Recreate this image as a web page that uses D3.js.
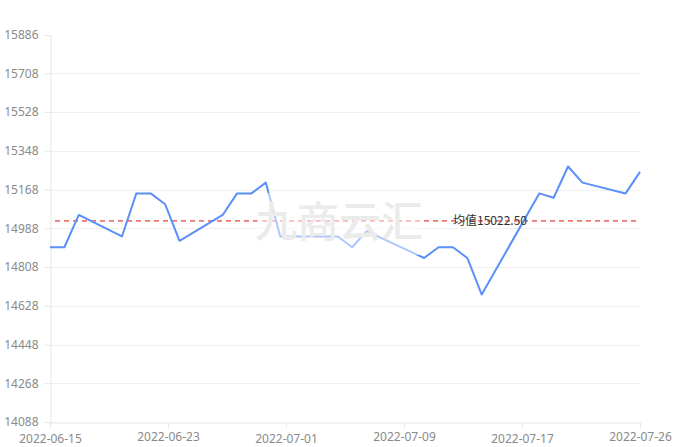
<!DOCTYPE html>
<html>
<head>
<meta charset="utf-8">
<script src="https://cdn.jsdelivr.net/npm/d3@7/dist/d3.min.js"></script>
<style>
  html, body { margin: 0; padding: 0; background: #fff; }
  svg { display: block; }
  text { font-family: "Noto Sans", "Noto Sans CJK SC", sans-serif; }
</style>
</head>
<body>
<svg id="chart" width="677" height="447"></svg>
<script>
// ---- data ----
const dates = [
  "2022-06-15","2022-06-16","2022-06-17","2022-06-20","2022-06-21","2022-06-22",
  "2022-06-23","2022-06-24","2022-06-27","2022-06-28","2022-06-29","2022-06-30",
  "2022-07-01","2022-07-04","2022-07-05","2022-07-06","2022-07-07","2022-07-11",
  "2022-07-12","2022-07-13","2022-07-14","2022-07-15","2022-07-19","2022-07-20",
  "2022-07-21","2022-07-22","2022-07-25","2022-07-26"
];
const prices = [
  14900, 14900, 15050, 14950, 15150, 15150,
  15100, 14930, 15050, 15150, 15150, 15200,
  14950, 14950, 14950, 14900, 14975, 14850,
  14900, 14900, 14850, 14680, 15150, 15130,
  15275, 15200, 15150, 15250
];
const meanValue = 15022.50;
const meanLabel = "均值";
const yTicks = [14088, 14268, 14448, 14628, 14808, 14988, 15168, 15348, 15528, 15708, 15886];
const xTickLabels = ["2022-06-15","2022-06-23","2022-07-01","2022-07-09","2022-07-17","2022-07-26"];
const watermark = "九商云汇";

// ---- layout ----
const svg = d3.select("#chart");
const mLeft = 50, mRight = 640, mTop = 35, mBottom = 422;
const parse = d3.timeParse("%Y-%m-%d");
const pts = dates.map((d, i) => ({ date: parse(d), value: prices[i] }));

const x = d3.scaleTime()
  .domain([parse(dates[0]), parse(dates[dates.length - 1])])
  .range([mLeft, mRight]);
const y = d3.scaleLinear()
  .domain([yTicks[0], yTicks[yTicks.length - 1]])
  .range([mBottom, mTop]);

// grid lines
svg.append("g")
  .selectAll("line")
  .data(yTicks.slice(1, -1))
  .join("line")
  .attr("x1", mLeft).attr("x2", mRight)
  .attr("y1", d => Math.round(y(d)) + 0.5).attr("y2", d => Math.round(y(d)) + 0.5)
  .attr("stroke", "#f0f0f0").attr("stroke-width", 1);

// y axis
const yAxis = svg.append("g")
  .attr("transform", `translate(${mLeft + 0.5},0)`)
  .call(d3.axisLeft(y).tickValues(yTicks).tickSize(6).tickPadding(6).tickFormat(d3.format("d")));
yAxis.select(".domain").attr("stroke", "#e6e6e6");
yAxis.selectAll(".tick line").attr("stroke", "#e6e6e6");
yAxis.selectAll(".tick text").attr("fill", "#8a8a8a").style("font-size", "12px");

// x axis
const d0 = x.domain()[0].getTime(), d1 = x.domain()[1].getTime();
const xTickVals = xTickLabels.map((_, i) => new Date(d0 + (d1 - d0) * i / (xTickLabels.length - 1)));
const xAxis = svg.append("g")
  .attr("transform", `translate(0,${mBottom + 0.5})`)
  .call(d3.axisBottom(x).tickValues(xTickVals).tickSize(5).tickPadding(4)
    .tickFormat((d, i) => xTickLabels[i]));
xAxis.select(".domain").attr("stroke", "#e6e6e6");
xAxis.selectAll(".tick line").attr("stroke", "#e6e6e6");
xAxis.selectAll(".tick text")
  .attr("fill", "#8a8a8a").style("font-size", "12px")
  .attr("dy", (d, i) => (i % 2 === 0 ? "0.95em" : "0.8em"));

// mean dashed line
const ym = y(meanValue);
svg.append("line")
  .attr("x1", mLeft + 5).attr("x2", mRight)
  .attr("y1", ym).attr("y2", ym)
  .attr("stroke", "#ee6666").attr("stroke-opacity", 0.9).attr("stroke-width", 1.6)
  .attr("stroke-dasharray", "5,4");

// price line
const line = d3.line().x(d => x(d.date)).y(d => y(d.value));
svg.append("path")
  .datum(pts)
  .attr("d", line)
  .attr("fill", "none")
  .attr("stroke", "#5b8ff9")
  .attr("stroke-width", 2)
  .attr("stroke-linejoin", "round");

// mean label
svg.append("text")
  .attr("x", 490).attr("y", ym)
  .attr("dy", "0.38em")
  .attr("text-anchor", "middle")
  .attr("fill", "#333")
  .style("font-size", "12px")
  .style("font-family", "'Noto Sans CJK SC', sans-serif")
  .text(meanLabel + d3.format(".2f")(meanValue));

// watermark
const wm = svg.append("g");
wm.append("rect")
  .attr("x", 257).attr("y", 193).attr("width", 164).attr("height", 62)
  .attr("fill", "#fff").attr("fill-opacity", 0.5);
wm.append("text")
  .attr("x", 339).attr("y", 222)
  .attr("dy", "0.36em")
  .attr("text-anchor", "middle")
  .attr("fill", "#ebebeb")
  .style("font-size", "42px")
  .style("font-weight", "500")
  .style("font-family", "'Noto Sans CJK SC', sans-serif")
  .text(watermark);
</script>
</body>
</html>
